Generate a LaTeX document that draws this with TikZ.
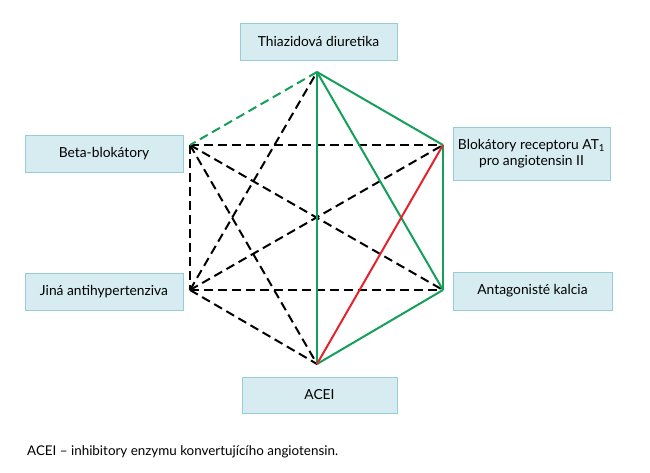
\documentclass[tikz,border=0pt]{standalone}
\usepackage{fontspec}
\setmainfont{Lato}
\definecolor{boxfill}{RGB}{214,236,240}
\definecolor{boxdraw}{RGB}{150,205,212}
\definecolor{lgreen}{RGB}{20,160,90}
\definecolor{lred}{RGB}{230,35,45}
\begin{document}
\begin{tikzpicture}[x=1pt,y=-1pt,
  drugbox/.style={draw=boxdraw,fill=boxfill,line width=1pt,inner sep=0pt,align=center,font=\fontsize{13.8}{16}\selectfont},
  gline/.style={draw=lgreen,line width=2pt},
  gdash/.style={draw=lgreen,line width=2pt,dash pattern=on 9pt off 5pt},
  rline/.style={draw=lred,line width=2pt},
  bdash/.style={draw=black,line width=2pt,dash pattern=on 9pt off 5pt}]
\useasboundingbox (0,0) rectangle (650,472);
\fill[white] (0,0) rectangle (650,472);
% boxes
\node[drugbox,minimum width=157pt,minimum height=37pt] (thz) at (318.5,41.5) {Thiazidová diuretika};
\node[drugbox,minimum width=157pt,minimum height=53pt] (arb) at (531.5,153.5) {Blokátory receptoru AT\textsubscript{1}\\pro angiotensin II};
\node[drugbox,minimum width=158pt,minimum height=37pt] (bb) at (104,153.5) {Beta-blokátory};
\node[drugbox,minimum width=158pt,minimum height=37pt] (oth) at (104,291.5) {Jiná antihypertenziva};
\node[drugbox,minimum width=159pt,minimum height=38pt] (cca) at (532.5,291) {Antagonisté kalcia};
\node[drugbox,minimum width=155pt,minimum height=36pt] (ace) at (319.5,395) {ACEI};
% hexagon vertices
\coordinate (T) at (317,72);
\coordinate (BL) at (190,145);
\coordinate (UR) at (443,145);
\coordinate (LL) at (190,290);
\coordinate (LR) at (443,290);
\coordinate (B) at (317,364);
% black dashed
\draw[bdash] (BL) -- (UR);
\draw[bdash] (BL) -- (LR);
\draw[bdash] (BL) -- (LL);
\draw[bdash] (BL) -- (B);
\draw[bdash] (LL) -- (T);
\draw[bdash] (LL) -- (UR);
\draw[bdash] (LL) -- (LR);
\draw[bdash] (LL) -- (B);
% green
\draw[gdash] (T) -- (BL);
\draw[gline] (T) -- (UR);
\draw[gline] (T) -- (B);
\draw[gline] (T) -- (LR);
\draw[gline] (UR) -- (LR);
\draw[gline] (LR) -- (B);
% red
\draw[rline] (UR) -- (B);
% caption
\node[anchor=west,font=\fontsize{13.4}{15}\selectfont,inner sep=0pt] (cap) at (27,452) {ACEI – inhibitory enzymu konvertujícího angiotensin.};
\end{tikzpicture}
\end{document}
